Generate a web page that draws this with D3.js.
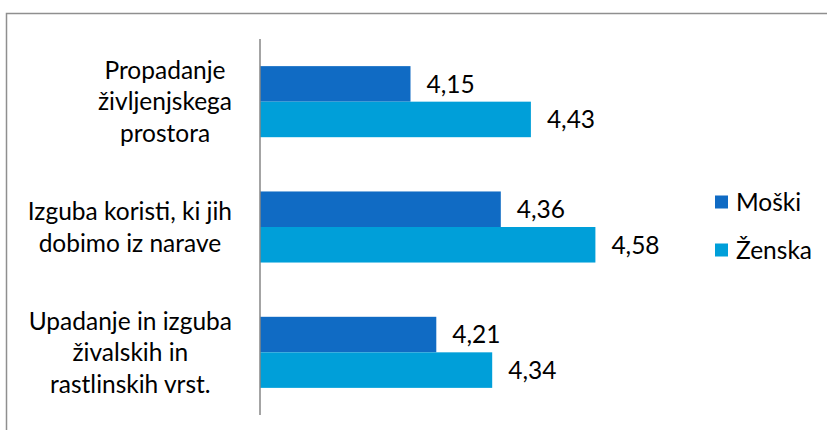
<!DOCTYPE html>
<html>
<head>
<meta charset="utf-8">
<script src="https://cdn.jsdelivr.net/npm/d3@7"></script>
<style>
  body { margin: 0; background: #fff; }
  svg { display: block; font-family: Lato, "Open Sans", sans-serif; }
</style>
</head>
<body>
<div class="container"></div>
<script>
// categories (top to bottom), each label split into its lines
const categories = ["Propadanje življenjskega prostora", "Izguba koristi, ki jih dobimo iz narave", "Upadanje in izguba živalskih in rastlinskih vrst."];
const categoryLines = [
  ["Propadanje", "življenjskega", "prostora"],
  ["Izguba koristi, ki jih", "dobimo iz narave"],
  ["Upadanje in izguba", "živalskih in", "rastlinskih vrst."],
];
const seriesNames = ["Moški", "Ženska"];
const moski = [4.15, 4.36, 4.21];
const zenska = [4.43, 4.58, 4.34];
const colors = ["#106bc4", "#009fd9"];

const width = 827;
const height = 430;
const fontSize = 24.5;

const svg = d3.select(".container")
  .append("svg")
  .attr("width", width)
  .attr("height", height);

// chart frame (right and bottom edges fall outside the picture)
svg.append("rect")
  .attr("x", 6.5)
  .attr("y", 13.5)
  .attr("width", 900)
  .attr("height", 600)
  .attr("fill", "none")
  .attr("stroke", "#8f8f8f")
  .attr("stroke-width", 1.5);

const x = d3.scaleLinear().domain([3.8, 4.8]).range([260, 690]);

const y = d3.scaleBand()
  .domain(categories)
  .range([39, 415])
  .paddingInner(0.433)
  .paddingOuter(0.2165);

const ySub = d3.scaleBand()
  .domain(seriesNames)
  .range([0, y.bandwidth()]);

const rows = categories.map((c, i) => ({
  cat: c,
  values: [
    { name: seriesNames[0], value: moski[i] },
    { name: seriesNames[1], value: zenska[i] },
  ],
}));

const fmt = d3.formatLocale({ decimal: ",", thousands: ".", grouping: [3], currency: ["", " €"] }).format(".2f");

const group = svg.selectAll("g.cat")
  .data(rows)
  .enter()
  .append("g")
  .attr("class", "cat")
  .attr("transform", (d) => `translate(0, ${y(d.cat)})`);

group.selectAll("rect")
  .data((d) => d.values)
  .enter()
  .append("rect")
  .attr("x", x(3.8))
  .attr("y", (d) => ySub(d.name))
  .attr("width", (d) => x(d.value) - x(3.8))
  .attr("height", ySub.bandwidth())
  .attr("fill", (d, i) => colors[i]);

group.selectAll("text.val")
  .data((d) => d.values)
  .enter()
  .append("text")
  .attr("class", "val")
  .attr("x", (d) => x(d.value) + 16)
  .attr("y", (d) => ySub(d.name) + ySub.bandwidth() / 2)
  .attr("dy", "0.36em")
  .attr("font-size", fontSize)
  .attr("fill", "#000")
  .text((d) => fmt(d.value));

// axis line
svg.append("line")
  .attr("x1", x(3.8))
  .attr("x2", x(3.8))
  .attr("y1", 39)
  .attr("y2", 415)
  .attr("stroke", "#868686")
  .attr("stroke-width", 1.5);

// category labels: centred text, box right-aligned near the axis
const lineH = 31.5;
categories.forEach((c, i) => {
  const lines = categoryLines[i];
  const g = svg.append("g");
  const cy = y(c) + y.bandwidth() / 2;
  const texts = g.selectAll("text")
    .data(lines)
    .enter()
    .append("text")
    .attr("text-anchor", "middle")
    .attr("font-size", fontSize)
    .attr("fill", "#000")
    .attr("y", (d, j) => cy + (j - (lines.length - 1) / 2) * lineH)
    .attr("dy", "0.36em")
    .text((d) => d);
  const maxW = d3.max(texts.nodes(), (n) => n.getComputedTextLength());
  texts.attr("x", 232 - maxW / 2);
});

// legend
const legend = svg.selectAll("g.legend")
  .data(seriesNames)
  .enter()
  .append("g")
  .attr("class", "legend")
  .attr("transform", (d, i) => `translate(715, ${202 + i * 48})`);

legend.append("rect")
  .attr("x", 0)
  .attr("y", -6.5)
  .attr("width", 13)
  .attr("height", 13)
  .attr("fill", (d, i) => colors[i]);

legend.append("text")
  .attr("x", 21)
  .attr("dy", "0.36em")
  .attr("font-size", fontSize)
  .attr("fill", "#000")
  .text((d) => d);
</script>
</body>
</html>
